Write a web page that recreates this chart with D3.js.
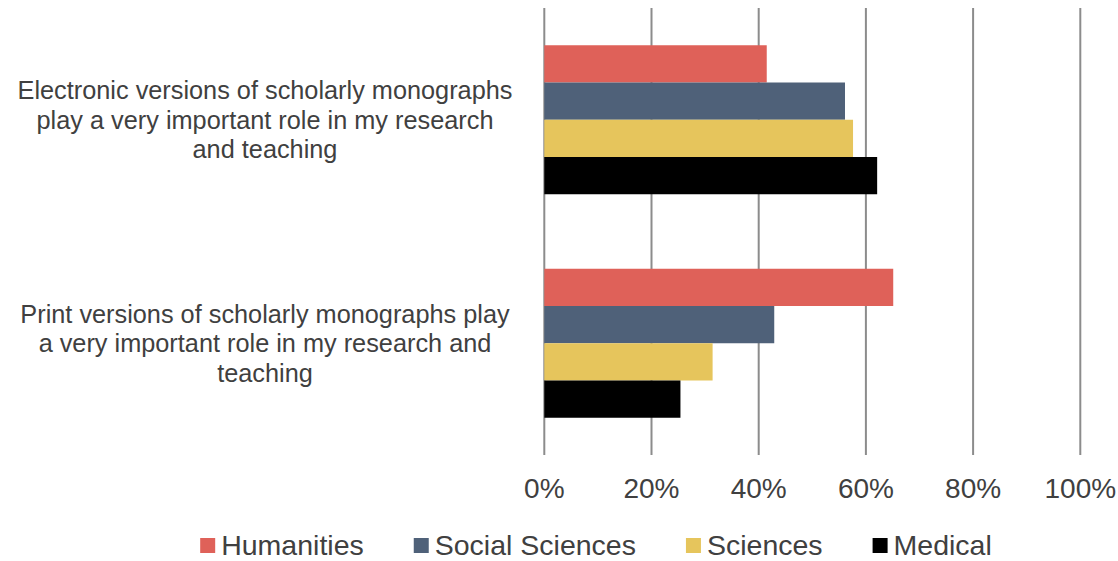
<!DOCTYPE html>
<html>
<head>
<meta charset="utf-8">
<script src="https://cdn.jsdelivr.net/npm/d3@7"></script>
<style>
  body { margin: 0; background: #fff; }
  svg { display: block; font-family: "Liberation Sans", Arial, Helvetica, sans-serif; }
</style>
</head>
<body>
<div id="chart"></div>
<script>
// categories (label lines as wrapped in the original)
const categories = ["Electronic", "Print"];
const categoryLines = [
  ["Electronic versions of scholarly monographs", "play a very important role in my research", "and teaching"],
  ["Print versions of scholarly monographs play", "a very important role in my research and", "teaching"]
];
const seriesNames = ["Humanities", "Social Sciences", "Sciences", "Medical"];
const seriesColors = ["#df6159", "#4f6179", "#e6c55c", "#000000"];
// share per series, same order as categories
const humanities = [0.415, 0.651];
const socialSciences = [0.561, 0.429];
const sciences = [0.576, 0.314];
const medical = [0.621, 0.254];
const xTicks = [0, 0.2, 0.4, 0.6, 0.8, 1.0];

const seriesValues = [humanities, socialSciences, sciences, medical];

const width = 1118, height = 561;

const svg = d3.select("#chart").append("svg")
  .attr("width", width)
  .attr("height", height);

const x = d3.scaleLinear().domain([0, 1]).range([544.3, 1080.3]);
const y = d3.scaleBand().domain(categories).range([8, 455]);
const y1 = d3.scaleBand().domain(seriesNames).range([0, y.bandwidth()])
  .paddingInner(0).paddingOuter(1);
const color = d3.scaleOrdinal().domain(seriesNames).range(seriesColors);

// vertical gridlines
svg.append("g")
  .selectAll("line")
  .data(xTicks)
  .join("line")
  .attr("x1", d => x(d)).attr("x2", d => x(d))
  .attr("y1", 8).attr("y2", 455)
  .attr("stroke", "#8c8c8c")
  .attr("stroke-width", 2);

// bars
const groups = svg.append("g")
  .selectAll("g")
  .data(categories)
  .join("g")
  .attr("transform", d => `translate(0,${y(d)})`);

groups.selectAll("rect")
  .data((c, ci) => seriesNames.map((s, si) => ({ series: s, value: seriesValues[si][ci] })))
  .join("rect")
  .attr("x", x(0))
  .attr("y", d => y1(d.series))
  .attr("width", d => x(d.value) - x(0))
  .attr("height", y1.bandwidth())
  .attr("fill", d => color(d.series));

// x tick labels
svg.append("g")
  .selectAll("text")
  .data(xTicks)
  .join("text")
  .attr("x", d => x(d))
  .attr("y", 498)
  .attr("text-anchor", "middle")
  .attr("font-size", 28)
  .attr("fill", "#404040")
  .text(d3.format(".0%"));

// category labels
const catLabel = svg.append("g")
  .selectAll("text")
  .data(categories)
  .join("text")
  .attr("x", 265)
  .attr("y", d => y(d) + y.bandwidth() / 2)
  .attr("text-anchor", "middle")
  .attr("font-size", 25.3)
  .attr("fill", "#404040");

catLabel.selectAll("tspan")
  .data((d, i) => categoryLines[i].map((t, j, arr) => ({ t, j, n: arr.length })))
  .join("tspan")
  .attr("x", 265)
  .attr("dy", d => d.j === 0 ? `${0.35 - (d.n - 1) / 2 * 1.17}em` : "1.17em")
  .text(d => d.t);

// legend
const legend = svg.append("g");
let lx = 0;
seriesNames.forEach(name => {
  const g = legend.append("g").attr("transform", `translate(${lx},0)`);
  g.append("rect")
    .attr("x", 0).attr("y", 538)
    .attr("width", 15).attr("height", 15)
    .attr("fill", color(name));
  const t = g.append("text")
    .attr("x", 21).attr("y", 555)
    .attr("font-size", 28.5)
    .attr("fill", "#404040")
    .text(name);
  const w = t.node().getComputedTextLength();
  lx += 21 + w + 50;
});
const legendWidth = lx - 50;
legend.attr("transform", `translate(${596 - legendWidth / 2},0)`);
</script>
</body>
</html>
